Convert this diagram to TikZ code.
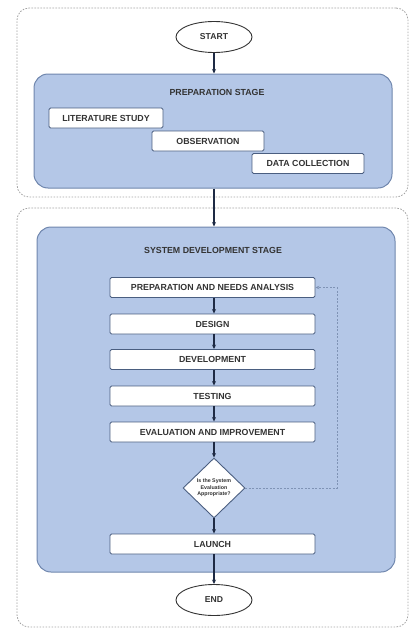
\documentclass[tikz,border=0pt]{standalone}
\usepackage{fontspec}
\setmainfont{Liberation Sans}
\usetikzlibrary{shapes.geometric,arrows.meta}
\definecolor{stagefill}{HTML}{B4C7E7}
\definecolor{stageline}{HTML}{6F86AD}
\definecolor{boxline}{HTML}{4A5E80}
\definecolor{dashgray}{HTML}{A3A3A3}
\definecolor{arrowcol}{HTML}{1E2A44}
\definecolor{fbcol}{HTML}{7F93B5}
\tikzset{
  outerbox/.style={draw=dashgray, dash pattern=on 1.6pt off 1.4pt, line width=0.8pt, rounded corners=12pt, inner sep=0pt},
  stagebox/.style={draw=stageline, fill=stagefill, line width=1pt, rounded corners=14pt, inner sep=0pt},
  stagetitle/.style={font=\bfseries\fontsize{8.8}{9}\selectfont, text=black!80, inner sep=0pt},
  stepbox/.style={draw=boxline, fill=white, line width=0.9pt, rounded corners=1.5pt, font=\bfseries\fontsize{8.8}{9}\selectfont, text=black!80, inner sep=0pt, minimum height=20pt},
  term/.style={ellipse, draw=black!80, fill=white, line width=0.9pt, minimum width=76pt, minimum height=31pt, inner sep=0pt, font=\bfseries\fontsize{8.6}{9}\selectfont, text=black!80},
  decision/.style={diamond, draw=boxline, fill=white, line width=0.9pt, minimum width=62pt, minimum height=60pt, inner sep=0pt, font=\bfseries\fontsize{5.3}{6.6}\selectfont, align=center, text=black!80},
  arr/.style={draw=arrowcol, line width=1.3pt, -{Stealth[length=4.5pt,width=4pt]}},
  fbarr/.style={draw=fbcol, line width=0.7pt, dash pattern=on 2pt off 1.5pt, -{Stealth[length=4pt,width=3.5pt]}}
}
\begin{document}
\begin{tikzpicture}[x=1pt,y=-1pt]
\useasboundingbox (0,0) rectangle (410,629);
% outer dashed regions
\node[outerbox, minimum width=391pt, minimum height=189pt] (outerA) at (212.5,102.5) {};
\node[outerbox, minimum width=391pt, minimum height=419pt] (outerB) at (212.5,417.5) {};
% stage boxes
\node[stagebox, minimum width=358pt, minimum height=114pt] (prep) at (213,131) {};
\node[stagebox, minimum width=358pt, minimum height=345pt] (sys) at (216,399.5) {};
\node[stagetitle] (preptitle) at (217,92) {PREPARATION STAGE};
\node[stagetitle] (systitle) at (213,250) {SYSTEM DEVELOPMENT STAGE};
% terminals
\node[term] (start) at (214,37) {START};
\node[term] (end) at (214,600) {END};
% preparation steps
\node[stepbox, minimum width=114pt] (lit) at (106,118) {LITERATURE STUDY};
\node[stepbox, minimum width=112pt] (obs) at (208,141) {OBSERVATION};
\node[stepbox, minimum width=112pt] (data) at (308,163.5) {DATA COLLECTION};
% development steps
\node[stepbox, minimum width=205pt] (pna) at (212.5,287.5) {PREPARATION AND NEEDS ANALYSIS};
\node[stepbox, minimum width=205pt] (design) at (212.5,324) {DESIGN};
\node[stepbox, minimum width=205pt] (dev) at (212.5,359.5) {DEVELOPMENT};
\node[stepbox, minimum width=205pt] (test) at (212.5,396) {TESTING};
\node[stepbox, minimum width=205pt] (eval) at (212.5,432) {EVALUATION AND IMPROVEMENT};
\node[decision] (dec) at (214,488) {Is the System\\Evaluation\\Appropriate?};
\node[stepbox, minimum width=205pt] (launch) at (212.5,544) {LAUNCH};
\coordinate (fb) at (337,488);
% connectors
\draw[arr] (start) -- (start |- prep.north);
\draw[arr] (start |- prep.south) -- (start |- sys.north);
\draw[arr] (pna.south -| dec) -- (design.north -| dec);
\draw[arr] (design.south -| dec) -- (dev.north -| dec);
\draw[arr] (dev.south -| dec) -- (test.north -| dec);
\draw[arr] (test.south -| dec) -- (eval.north -| dec);
\draw[arr] (eval.south -| dec) -- (dec.north);
\draw[arr] (dec.south) -- (launch.north -| dec);
\draw[arr] (launch.south -| dec) -- (end.north);
\draw[fbarr] (dec.east) -- (fb) |- (pna.east);
\end{tikzpicture}
\end{document}
